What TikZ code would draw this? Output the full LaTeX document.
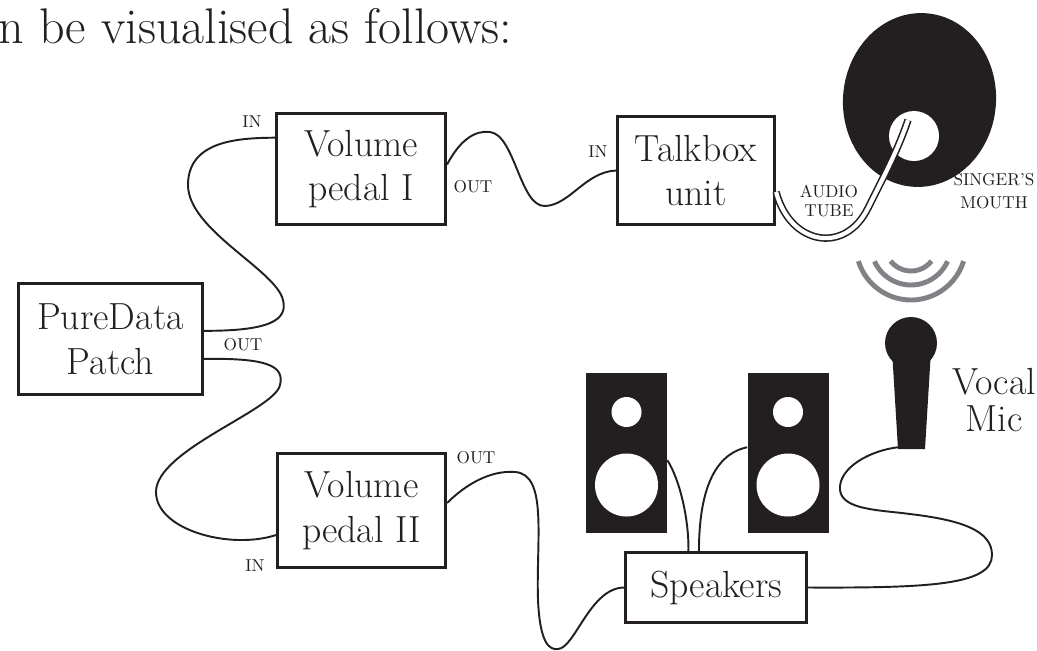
\documentclass[tikz,border=0pt]{standalone}
\usepackage{tikz}
\usetikzlibrary{calc}
\definecolor{ink}{RGB}{35,31,32}
\definecolor{wave}{RGB}{128,130,133}

\begin{document}
\begin{tikzpicture}[x=0.02cm, y=-0.02cm,
  box/.style={draw=ink, line width=1.8pt, inner sep=0pt, align=center, text=ink,
    font=\fontsize{21.5}{25.5}\selectfont},
  port/.style={inner sep=0pt, align=center, text=ink, font=\fontsize{9.8}{11.3}\selectfont},
  cable/.style={draw=ink, line width=1.1pt},
  cab/.style={fill=ink, inner sep=0pt, minimum width=1.62cm, minimum height=3.2cm}]
\path[use as bounding box, clip] (0,0) rectangle (1037,650);

% running text above
\node[anchor=base west, inner sep=0pt, text=ink, font=\fontsize{28.5}{32}\selectfont] (intro) at (-2,43) {n be visualised as follows:};

% units
\node[box, minimum width=3.38cm, minimum height=2.22cm] (vp1) at (361,169) {Volume\\pedal I};
\node[box, minimum width=3.14cm, minimum height=2.16cm] (tb) at (696,170.5) {Talkbox\\unit};
\node[box, minimum width=3.68cm, minimum height=2.22cm] (pd) at (110.5,339) {PureData\\Patch};
\node[box, minimum width=3.36cm, minimum height=2.28cm] (vp2) at (361.5,510.5) {Volume\\pedal II};
\node[box, minimum width=3.62cm, minimum height=1.40cm] (spk) at (716,587.5) {Speakers};

% loudspeaker cabinets
\foreach \x/\n in {626.5/lcab, 788/rcab} {
  \node[cab] (\n) at (\x,453) {};
  \fill[white] (\x,412) circle[radius=15] (\x,485) circle[radius=31.5];
}

% head with mouth
\fill[ink, rotate around={-5:(919.5,100)}] (919.5,100) ellipse[x radius=76.5, y radius=87];
\fill[white] (914,136) circle[radius=25];

% sound waves
\foreach \r/\a in {55/17, 40/24, 26/38}
  \draw[wave, line width=2.8pt] (911,245) ++(\a:\r) arc[start angle=\a, end angle={180-\a}, radius=\r];

% microphone
\fill[ink] (911,343) circle[radius=26];
\fill[ink] (892,350) -- (931,350) -- (925,449) -- (898,449) -- cycle;
\coordinate (mic) at (900,447);
\node[inner sep=0pt, align=center, text=ink, font=\fontsize{21.5}{21}\selectfont] (voc) at (994,400) {Vocal\\Mic};

% port labels
\node[port] (in1) at (252,122) {IN};
\node[port] (out0) at (243,345) {OUT};
\node[port] (out1) at (473,187) {OUT};
\node[port] (in2) at (598,152) {IN};
\node[port] (tube) at (829,201) {AUDIO\\TUBE};
\node[port, font=\fontsize{9.8}{13}\selectfont] (mouth) at (994,191) {SINGER'S\\MOUTH};
\node[port] (out2) at (476,458) {OUT};
\node[port] (in3) at (255,566) {IN};

% cables
\draw[cable] (pd.5) .. controls (270,331) and (288,320) .. (283,300)
  .. controls (276,270) and (188,230) .. (188,185)
  .. controls (188,140) and (240,138) .. (vp1.160);
\draw[cable] (pd.-12) .. controls (265,358) and (285,365) .. (280,385)
  .. controls (275,410) and (156,450) .. (156,492)
  .. controls (156,530) and (230,550) .. (vp2.196);
\draw[cable] (vp1.3) .. controls (460,140) and (475,130) .. (490,132)
  .. controls (515,135) and (520,207) .. (545,206)
  .. controls (570,205) and (585,172) .. (tb.west);
\draw[cable] (vp2.5) .. controls (465,485) and (490,470) .. (515,472)
  .. controls (548,474) and (536,540) .. (538,600)
  .. controls (540,645) and (550,650) .. (558,649)
  .. controls (575,648) and (590,588) .. (spk.west);
\draw[cable] (lcab.-10) .. controls (680,480) and (689,520) .. (spk.127);
\draw[cable] (rcab.172) .. controls (710,455) and (699,500) .. (spk.115);
\draw[cable] (mic) .. controls (870,450) and (838,468) .. (840,490)
  .. controls (842,510) and (880,510) .. (910,514)
  .. controls (960,520) and (992,530) .. (992,555)
  .. controls (992,585) and (930,588) .. (spk.east);

% audio tube into the mouth
\draw[ink, line width=0.9pt, double=white, double distance=2.4pt] (tb.-15)
  .. controls (790,245) and (845,255) .. (868,208)
  .. controls (882,180) and (898,150) .. (908,120);
\end{tikzpicture}
\end{document}
